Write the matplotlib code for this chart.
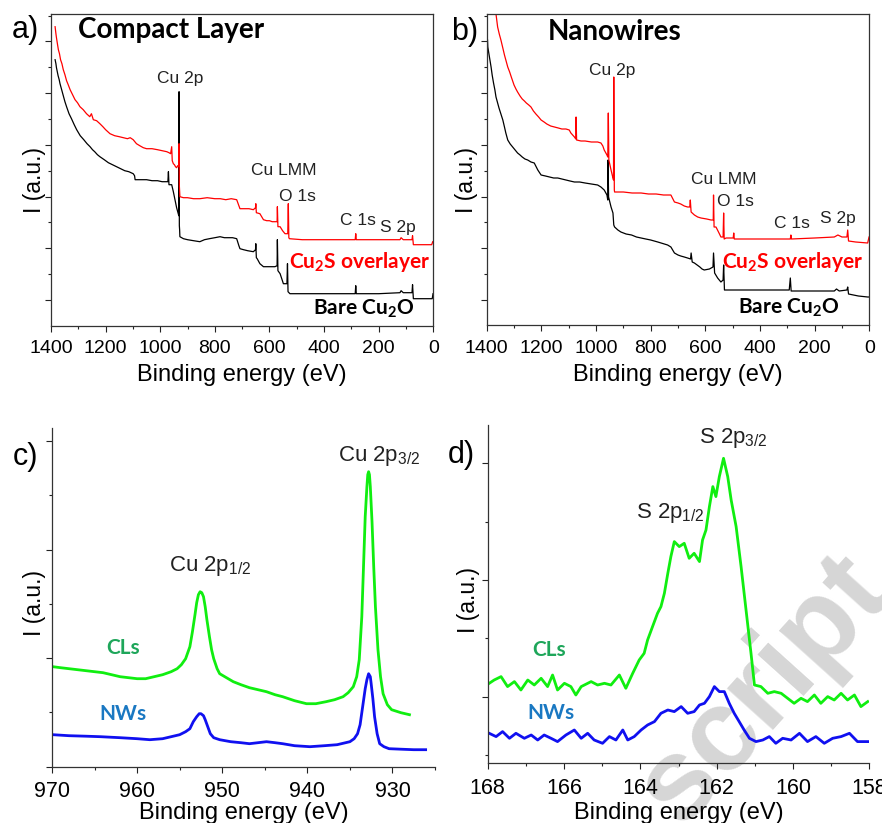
import matplotlib
matplotlib.use("Agg")
import matplotlib.pyplot as plt
from matplotlib.ticker import MultipleLocator

plt.rcParams["font.family"] = ["Liberation Sans", "DejaVu Sans"]
plt.rcParams["mathtext.fontset"] = "custom"
plt.rcParams["mathtext.rm"] = "Liberation Sans"
plt.rcParams["mathtext.it"] = "Liberation Sans:italic"
plt.rcParams["mathtext.bf"] = "Lato:bold"

# --------------------------------------------------------------------
# Survey spectra (binding energy eV, intensity a.u.)
# --------------------------------------------------------------------
cl_cu2s = [
    (1385, 299), (1382, 292), (1380, 288), (1376, 281), (1373, 276), (1369, 272),
    (1365, 266), (1360, 262), (1355, 256), (1349, 251), (1343, 245), (1337, 241),
    (1330, 236), (1321, 231), (1312, 226), (1303, 223), (1294, 219), (1282, 216),
    (1270, 212), (1258, 209), (1252, 212), (1245, 206), (1233, 205), (1221, 202),
    (1210, 199), (1200, 196), (1192, 194), (1184, 192), (1167, 190), (1150, 189),
    (1135, 188), (1120, 187), (1110, 188), (1099, 186), (1087, 182), (1075, 180),
    (1062, 178), (1050, 177), (1030, 177), (1010, 176), (993, 175), (976, 174),
    (968, 173), (962, 172), (958, 179), (956, 165), (952, 162), (948, 161),
    (944, 159), (940, 158), (936, 160), (932, 159), (931, 182), (930, 140),
    (928, 129), (915, 128), (900, 128), (878, 127), (855, 127), (828, 128),
    (800, 127), (780, 127), (760, 126), (740, 127), (720, 126), (712, 120),
    (708, 117), (690, 117), (675, 117), (659, 116), (651, 118), (650, 122),
    (648, 113), (635, 112), (622, 106), (610, 105), (600, 105), (590, 104),
    (580, 104), (572, 104), (571, 119), (569, 99), (561, 99), (552, 95),
    (543, 92), (533, 92), (531, 122), (529, 88), (527, 87), (480, 86),
    (420, 86), (366, 86), (320, 86), (286, 86), (284, 92), (282, 86),
    (240, 86), (180, 86), (122, 86), (118, 88), (110, 86), (78, 86),
    (76, 90), (73, 81), (67, 81), (40, 81), (6, 81), (2, 84),
]
cl_bare = [
    (1385, 266), (1382, 262), (1380, 258), (1377, 254), (1374, 250), (1370, 246),
    (1367, 242), (1361, 236), (1355, 230), (1349, 224), (1343, 219), (1334, 212),
    (1325, 207), (1315, 201), (1306, 196), (1293, 190), (1280, 186), (1268, 182),
    (1257, 179), (1248, 176), (1240, 174), (1230, 171), (1221, 169), (1205, 166),
    (1190, 163), (1175, 161), (1160, 159), (1145, 157), (1130, 155), (1115, 154),
    (1099, 152), (1094, 150), (1092, 146), (1070, 146), (1050, 146), (1030, 145),
    (1010, 145), (993, 144), (976, 144), (972, 144), (970, 154), (968, 141),
    (958, 141), (952, 134), (946, 126), (940, 118), (934, 112), (932, 110),
    (931, 234), (930, 100), (929, 96), (928, 89), (915, 87), (900, 86),
    (878, 85), (855, 84), (838, 86), (820, 87), (800, 88), (781, 89),
    (765, 88), (750, 88), (735, 88), (720, 87), (712, 80), (708, 77),
    (695, 76), (680, 75), (659, 74), (651, 76), (650, 82), (648, 68),
    (645, 67), (635, 62), (622, 59), (600, 59), (580, 59), (572, 60),
    (571, 86), (569, 55), (561, 52), (555, 47), (549, 42), (536, 42),
    (534, 62), (532, 34), (525, 32), (450, 32), (366, 32), (286, 32),
    (284, 40), (282, 32), (200, 32), (122, 33), (118, 35), (110, 33),
    (78, 33), (76, 41), (73, 27), (67, 27), (30, 27), (4, 27), (1, 32),
]
nw_cu2s = [
    (1372, 335), (1366, 311), (1360, 298), (1354, 291), (1348, 285), (1341, 277),
    (1335, 270), (1329, 264), (1323, 258), (1316, 253), (1310, 248), (1305, 244),
    (1300, 240), (1293, 236), (1287, 233), (1278, 229), (1270, 226), (1262, 224),
    (1255, 222), (1246, 220), (1238, 218), (1229, 214), (1220, 211), (1210, 208),
    (1201, 205), (1190, 203), (1180, 201), (1166, 199), (1152, 198), (1138, 197),
    (1125, 196), (1110, 196), (1098, 195), (1092, 192), (1079, 188), (1074, 186),
    (1073, 208), (1071, 185), (1055, 184), (1040, 184), (1017, 183), (994, 183),
    (982, 182), (975, 179), (970, 175), (960, 170), (957, 168), (955, 212),
    (953, 165), (949, 160), (945, 155), (939, 148), (936, 145), (935, 248),
    (933, 135), (932, 133), (915, 133), (900, 133), (868, 132), (835, 132),
    (808, 131), (780, 131), (753, 130), (726, 130), (713, 123), (700, 122),
    (690, 121), (677, 119), (665, 118), (657, 118), (655, 125), (652, 113),
    (640, 110), (628, 108), (616, 107), (595, 106), (579, 105), (571, 105),
    (570, 130), (568, 98), (561, 98), (550, 92), (543, 88), (535, 88),
    (533, 112), (531, 86), (524, 87), (498, 87), (496, 92), (494, 86),
    (420, 86), (350, 86), (289, 86), (287, 90), (285, 86), (200, 87),
    (128, 88), (115, 90), (100, 88), (82, 88), (79, 95), (76, 84),
    (50, 83), (6, 82), (1, 88),
]
nw_bare = [
    (1397, 285), (1396, 278), (1390, 268), (1384, 258), (1380, 250), (1375, 242),
    (1370, 235), (1366, 228), (1360, 222), (1355, 217), (1348, 211), (1341, 205),
    (1335, 198), (1330, 192), (1323, 185), (1314, 181), (1305, 178), (1296, 175),
    (1287, 172), (1278, 170), (1270, 168), (1260, 166), (1250, 165), (1238, 163),
    (1226, 162), (1213, 155), (1201, 150), (1185, 149), (1170, 148), (1155, 147),
    (1140, 147), (1125, 146), (1110, 145), (1095, 144), (1079, 143), (1060, 143),
    (1040, 142), (1017, 141), (994, 140), (982, 138), (970, 135), (960, 130),
    (957, 125), (956, 165), (954, 128), (945, 118), (938, 112), (935, 100),
    (932, 98), (920, 95), (909, 93), (890, 91), (870, 90), (852, 88),
    (835, 87), (818, 86), (800, 85), (787, 84), (774, 83), (762, 82),
    (750, 81), (738, 80), (726, 78), (713, 72), (700, 70), (690, 69),
    (677, 68), (665, 67), (654, 66), (652, 72), (648, 63), (640, 62),
    (630, 60), (620, 58), (612, 56), (604, 55), (585, 56), (572, 58),
    (570, 72), (566, 52), (555, 47), (543, 43), (535, 45), (533, 60),
    (530, 35), (524, 35), (450, 35), (370, 35), (293, 35), (289, 47),
    (286, 34), (200, 34), (128, 34), (120, 36), (110, 34), (82, 35),
    (79, 38), (76, 31), (40, 29), (6, 28), (1, 28),
]

# --------------------------------------------------------------------
# High resolution Cu 2p and S 2p spectra
# --------------------------------------------------------------------
cu2p_cls = [
    (969.9, 100), (969.0, 99), (968.0, 98), (967.0, 97), (966.0, 96), (965.0, 95),
    (964.0, 94), (963.0, 92), (962.0, 90), (961.0, 89), (960.0, 88), (959.0, 88),
    (958.0, 90), (957.0, 92), (956.0, 95), (955.3, 98), (954.8, 102), (954.3, 108),
    (953.8, 120), (953.5, 135), (953.2, 152), (953.0, 164), (952.8, 172),
    (952.6, 175), (952.4, 174), (952.2, 170), (952.0, 160), (951.8, 147),
    (951.5, 130), (951.25, 117), (951.0, 108), (950.6, 98), (950.3, 93),
    (949.5, 89), (948.7, 85), (947.8, 82), (946.8, 79), (945.8, 77), (944.8, 75),
    (943.8, 72), (942.9, 70), (941.5, 66), (940.1, 63), (939.0, 63), (937.8, 65),
    (936.8, 67), (935.8, 70), (935.2, 74), (934.6, 80), (934.2, 90), (933.9, 107),
    (933.6, 150), (933.4, 200), (933.2, 250), (933.0, 280), (932.9, 292),
    (932.8, 295), (932.7, 292), (932.6, 280), (932.4, 245), (932.2, 200),
    (932.0, 160), (931.7, 117), (931.4, 90), (931.1, 73), (930.6, 62),
    (930.1, 57), (929.0, 54), (928.0, 52),
]
cu2p_nws = [
    (969.9, 32), (968.0, 31), (966.0, 30.5), (964.3, 30), (962.0, 29), (960.0, 28),
    (958.5, 27), (957.0, 28), (956.0, 30), (955.0, 32), (954.3, 35), (953.8, 38),
    (953.4, 45), (953.0, 50), (952.7, 53), (952.5, 53), (952.2, 51), (952.0, 47),
    (951.7, 40), (951.4, 33), (951.0, 29), (950.3, 27), (949.0, 25), (947.8, 24),
    (946.8, 23), (945.8, 24), (944.8, 25), (943.8, 24), (942.9, 23), (941.5, 21),
    (939.7, 20), (938.0, 21), (936.5, 22), (935.0, 25), (934.5, 28), (934.1, 33),
    (933.8, 42), (933.5, 60), (933.2, 78), (933.0, 87), (932.8, 93), (932.6, 90),
    (932.5, 83), (932.3, 68), (932.1, 50), (931.8, 33), (931.5, 23), (931.0, 20),
    (930.4, 18), (929.0, 17.5), (927.5, 17), (926.1, 17),
]
s2p_cls = [
    (167.96, 80), (167.83, 83.3), (167.65, 86.7), (167.48, 76.7), (167.30, 81.7),
    (167.13, 73.3), (166.95, 83.3), (166.78, 78.3), (166.60, 85), (166.43, 76.7),
    (166.30, 88.3), (166.17, 73.3), (165.99, 80), (165.82, 76.7), (165.69, 68.3),
    (165.55, 76.7), (165.29, 81.7), (165.12, 78.3), (164.94, 80), (164.77, 78.3),
    (164.55, 88.3), (164.38, 75), (164.20, 90), (164.03, 103.3), (163.90, 110),
    (163.81, 123.3), (163.68, 136.7), (163.55, 150), (163.46, 156.7), (163.37, 170),
    (163.28, 190), (163.20, 206.7), (163.11, 221.7), (162.98, 216.7), (162.85, 220),
    (162.72, 205), (162.59, 210), (162.45, 201.7), (162.37, 223.3), (162.28, 233.3),
    (162.19, 256.7), (162.10, 276.7), (162.02, 266.7), (161.93, 286.7), (161.82, 305),
    (161.71, 286.7), (161.62, 263.3), (161.49, 236.7), (161.36, 196.7), (161.23, 153.3),
    (161.10, 110), (161.01, 78.3), (160.84, 76.7), (160.66, 70), (160.49, 71.7),
    (160.31, 70), (160.14, 65), (159.97, 60), (159.79, 65), (159.62, 61.7),
    (159.44, 68.3), (159.27, 60), (159.09, 66.7), (158.92, 63.3), (158.74, 70),
    (158.57, 63.3), (158.39, 68.3), (158.22, 56.7), (158.04, 61.7),
]
s2p_nws = [
    (167.96, 30), (167.78, 26.7), (167.61, 31.7), (167.43, 25), (167.26, 30),
    (167.04, 25), (166.86, 28.3), (166.69, 23.3), (166.52, 28.3), (166.34, 25),
    (166.17, 21.7), (165.95, 28.3), (165.73, 33.3), (165.55, 25), (165.38, 30),
    (165.21, 23.3), (164.99, 20), (164.81, 26.7), (164.64, 23.3), (164.46, 33.3),
    (164.33, 23.3), (164.16, 26.7), (163.98, 33.3), (163.81, 38.3), (163.63, 41.7),
    (163.46, 50), (163.28, 53.3), (163.11, 51.7), (162.93, 56.7), (162.76, 50),
    (162.59, 51.7), (162.45, 58.3), (162.32, 60), (162.19, 66.7), (162.06, 76.7),
    (161.93, 71.7), (161.80, 71.7), (161.67, 60), (161.54, 50), (161.41, 41.7),
    (161.28, 33.3), (161.14, 25), (160.97, 21.7), (160.79, 23.3), (160.62, 26.7),
    (160.45, 20), (160.27, 25), (160.05, 23.3), (159.83, 30), (159.62, 21.7),
    (159.40, 26.7), (159.18, 20), (158.96, 25), (158.74, 26.7), (158.52, 30),
    (158.31, 21.7), (158.04, 21.7),
]

W, H = 882, 823
LABEL_GREEN = "#1ea65a"
LABEL_BLUE = "#1a78c2"


def unzip(pts):
    return [p[0] for p in pts], [p[1] for p in pts]


def box(left, top, right, bottom):
    # pixel box -> figure fraction rect
    return [left / W, 1 - bottom / H, (right - left) / W, (bottom - top) / H]


def fig_xy(x, y):
    return x / W, 1 - y / H


def style(ax, xlim, xmaj, xmin, ylim, ymaj, ymaj_off, ymin, ymin_off,
          full_box, labelsize):
    ax.set_xlim(*xlim)
    ax.set_ylim(*ylim)
    ax.set_facecolor("none")
    ax.xaxis.set_major_locator(MultipleLocator(xmaj))
    ax.xaxis.set_minor_locator(MultipleLocator(xmin))
    ax.yaxis.set_major_locator(MultipleLocator(ymaj, offset=ymaj_off))
    ax.yaxis.set_minor_locator(MultipleLocator(ymin, offset=ymin_off))
    ax.set_yticklabels([])
    ax.tick_params(which="both", direction="out", width=0.8, colors="#222222",
                   top=False, right=False)
    ax.tick_params(which="major", length=4.5, pad=6, labelsize=labelsize,
                   labelcolor="black")
    ax.tick_params(which="minor", length=2.5)
    ax.tick_params(axis="y", which="major", length=4)
    for name, sp in ax.spines.items():
        sp.set_linewidth(0.9)
        sp.set_color("#333333")
        if not full_box and name in ("top", "right"):
            sp.set_visible(False)


fig = plt.figure(figsize=(W / 100, H / 100), dpi=100)

ax_a = fig.add_axes(box(51, 14, 433.3, 325.7))
ax_b = fig.add_axes(box(486.7, 14, 869.3, 325))
ax_c = fig.add_axes(box(52, 428, 435, 766.7))
ax_d = fig.add_axes(box(487.7, 425, 869.3, 763.3))

style(ax_a, (1400, 0), 200, 100, (0, 311.7), 51.7, 25.7, 25.85, 25.7, True, 14)
style(ax_b, (1400, 0), 200, 100, (0, 311.0), 51.7, 25.0, 25.85, 25.0, True, 14)
style(ax_c, (970, 925), 10, 5, (0, 338.7), 108.6, 0, 54.3, 0, False, 15.5)
style(ax_d, (168, 158), 2, 1, (0, 338.3), 116.7, 66.7, 58.35, 66.7, False, 15.5)

# survey curves
for ax, red, black in ((ax_a, cl_cu2s, cl_bare), (ax_b, nw_cu2s, nw_bare)):
    x, y = unzip(black)
    ax.plot(x, y, color="black", lw=0.9)
    x, y = unzip(red)
    ax.plot(x, y, color="#ff0000", lw=0.9)

# high resolution curves
for ax, g, b in ((ax_c, cu2p_cls, cu2p_nws), (ax_d, s2p_cls, s2p_nws)):
    x, y = unzip(g)
    ax.plot(x, y, color="#10ee10", lw=2.0)
    x, y = unzip(b)
    ax.plot(x, y, color="#1010f0", lw=2.0)

# peak annotations on survey spectra
ann = dict(fontsize=12.5, color="#222222", ha="center", va="center")
ax_a.text(928, 247, "Cu 2p", **ann)
ax_a.text(549, 155, "Cu LMM", **ann)
ax_a.text(499, 129, "O 1s", **ann)
ax_a.text(276, 105, "C 1s", **ann)
ax_a.text(129, 98, "S 2p", **ann)
ax_b.text(940, 254, "Cu 2p", **ann)
ax_b.text(533, 146, "Cu LMM", **ann)
ax_b.text(488, 123, "O 1s", **ann)
ax_b.text(283, 102, "C 1s", **ann)
ax_b.text(116, 107, "S 2p", **ann)

bold = dict(fontsize=15, fontweight="bold", family=["Lato", "DejaVu Sans"], va="center")
ax_a.text(12, 64, r"Cu$_\mathbf{2}$S overlayer", color="#ff0000", ha="right", **bold)
ax_a.text(257, 17, r"Bare Cu$_\mathbf{2}$O", color="black", ha="center", **bold)
ax_b.text(23, 63, r"Cu$_\mathbf{2}$S overlayer", color="#ff0000", ha="right", **bold)
ax_b.text(296, 17, r"Bare Cu$_\mathbf{2}$O", color="black", ha="center", **bold)

# sample labels and peak labels on high resolution spectra
ax_c.text(961.7, 119, "CLs", color=LABEL_GREEN, ha="center", **bold)
ax_c.text(961.7, 53, "NWs", color=LABEL_BLUE, ha="center", **bold)
ax_d.text(166.39, 113, "CLs", color=LABEL_GREEN, ha="center", **bold)
ax_d.text(166.34, 50, "NWs", color=LABEL_BLUE, ha="center", **bold)

pk = dict(fontsize=16, color="#222222", va="baseline")
ax_c.text(951.4, 196, r"Cu 2p$_{1/2}$", ha="center", **pk)
ax_c.text(931.6, 306, r"Cu 2p$_{3/2}$", ha="center", **pk)
ax_d.text(164.11, 245, r"S 2p$_{1/2}$", ha="left", **pk)
ax_d.text(162.46, 320, r"S 2p$_{3/2}$", ha="left", **pk)

# panel letters and titles
for (px, py), letter in (((25, 30), "a)"), ((465, 32), "b)"),
                         ((25, 457), "c)"), ((461, 455), "d)")):
    fig.text(*fig_xy(px, py), letter, fontsize=22, ha="center", va="center")
fig.text(*fig_xy(78, 30), "Compact Layer", fontsize=20, fontweight="bold",
         family=["Lato", "DejaVu Sans"], ha="left", va="center")
fig.text(*fig_xy(548, 32), "Nanowires", fontsize=20, fontweight="bold",
         family=["Lato", "DejaVu Sans"], ha="left", va="center")

# axis titles
for (px, py) in ((242, 375), (678, 375), (244, 813), (679, 813)):
    fig.text(*fig_xy(px, py), "Binding energy (eV)", fontsize=17,
             ha="center", va="center")
for (px, py) in ((34, 180), (466, 180), (35, 603), (469, 600)):
    fig.text(*fig_xy(px, py), "I (a.u.)", fontsize=16.5, rotation=90,
             ha="center", va="center")

# watermark
fig.text(*fig_xy(765, 690), "script", fontsize=84, fontweight="bold",
         color="#d6d6d6", rotation=48, ha="center", va="center", zorder=-1)

fig.savefig("out.png", dpi=100)
